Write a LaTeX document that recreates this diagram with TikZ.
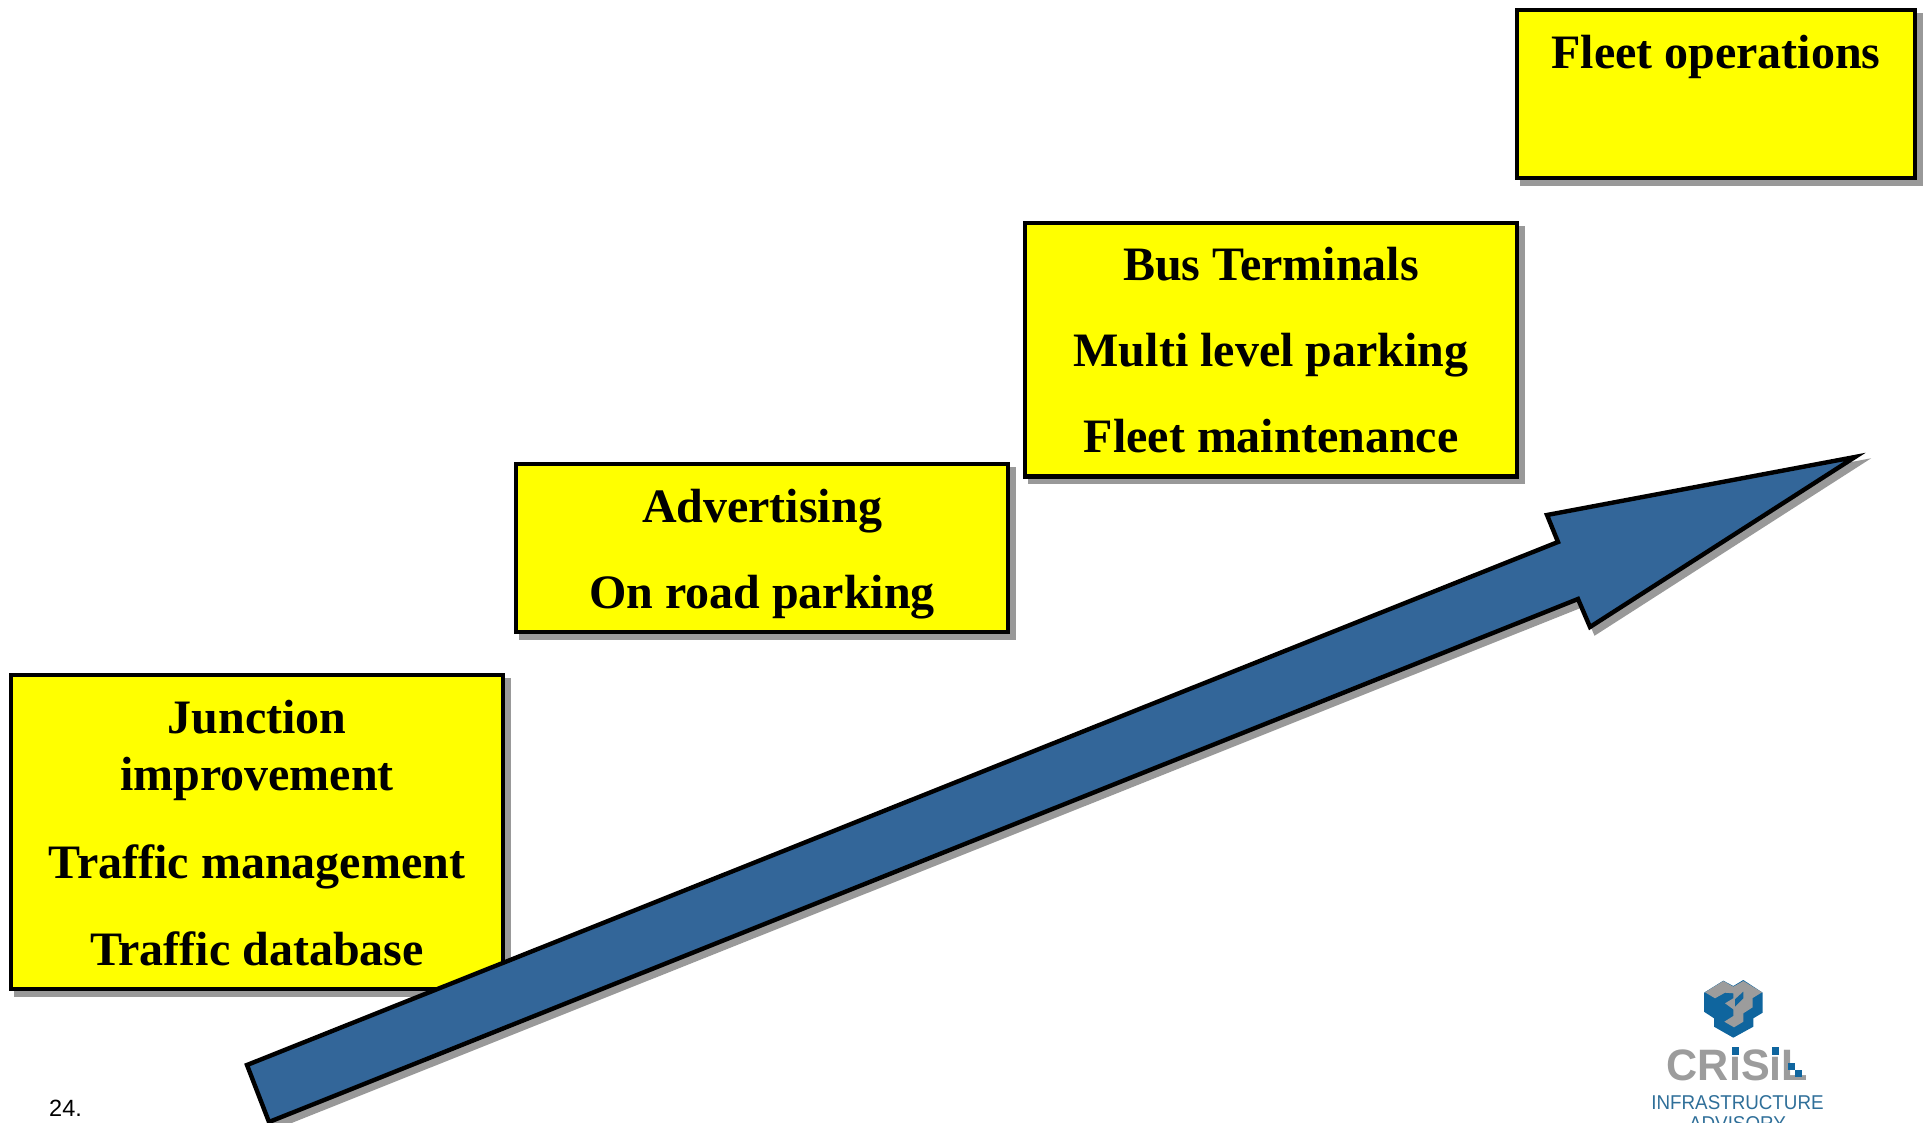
\documentclass[tikz,border=0pt]{standalone}
\usepackage{fontspec}
\setmainfont{Liberation Serif}
\newfontfamily\lsans{Liberation Sans}
\usetikzlibrary{shadows}
\definecolor{stepyellow}{HTML}{FFFF00}
\definecolor{shadowgray}{HTML}{999999}
\definecolor{arrowblue}{HTML}{336699}
\definecolor{logoblue}{HTML}{0F659E}
\definecolor{logogray}{HTML}{9C9C9C}
\definecolor{logotext}{HTML}{2F6F99}
\newcommand{\boxlines}[4]{\parbox[c][#2pt][t]{#1pt}{\centering\rule{0pt}{#3pt}#4}}
\tikzset{
  stepshadow/.style={general shadow={draw=shadowgray,fill=shadowgray,line width=4.4pt,shadow xshift=5.5pt,shadow yshift=-5.5pt}},
  stepbox/.style={rectangle,draw=black,fill=stepyellow,line width=4.4pt,inner sep=0pt,outer sep=0pt,stepshadow,
     font=\fontsize{48}{57}\selectfont\bfseries,text=black},
  growth/.style={draw=black,fill=arrowblue,line width=4.4pt,line join=miter,miter limit=30,stepshadow},
}
\begin{document}
\begin{tikzpicture}[x=1pt,y=-1pt]
\useasboundingbox (0,0) rectangle (1923,1123);
\clip (0,0) rectangle (1923,1123);
\node[stepbox] (fleet) at (1716,94) {\boxlines{398}{168}{59}{Fleet operations}};
\node[stepbox] (bus) at (1271,349.7) {\boxlines{492}{253.5}{58}{Bus Terminals\\[29pt]Multi level parking\\[29pt]Fleet maintenance}};
\node[stepbox] (adv) at (762,548) {\boxlines{492}{168}{58}{Advertising\\[29.6pt]On road parking}};
\node[stepbox] (junc) at (257,832) {\boxlines{492}{314}{58.5}{Junction\\improvement\\[30.6pt]Traffic management\\[30pt]Traffic database}};
\path[growth] (1855,457) -- (1590,627) -- (1578,599) -- (269,1122) -- (247,1065) -- (1558,542) -- (1547,515) -- cycle;
\node[anchor=base west,inner sep=0pt,font=\lsans\fontsize{23.5}{24}\selectfont] (pagenum) at (49,1116) {24.};
% logo
\fill[logoblue] (1704,992.7) -- (1723.3,980.7) -- (1733.3,986) -- (1743.3,980) -- (1762.7,992.7) -- (1762.7,1012.7) -- (1753.3,1018.3) -- (1753.3,1026.7) -- (1733.3,1037.7) -- (1714,1026.7) -- (1714,1018.3) -- (1704,1011.7) -- cycle;
\fill[logogray] (1705,992.3) -- (1723.3,981) -- (1733.3,986.7) -- (1743.3,981) -- (1762,992.3) -- (1752.7,998) -- (1752.7,1007.3) -- (1743.3,1013.3) -- (1743.3,1021.7) -- (1734,1027.3) -- (1724.3,1021.7) -- (1733.3,1016) -- (1733.3,1009.3) -- (1725,1003.3) -- (1733.3,998.3) -- (1733.3,993.3) -- (1725,992.7) -- (1715,998.3) -- cycle;
\fill[logoblue] (1735,999.3) -- (1743.3,991.7) -- (1743.3,998.3) -- (1735,1006.7) -- cycle;
\node[anchor=base,inner sep=0pt,text=logogray,font=\lsans\bfseries\fontsize{44}{44}\selectfont,xscale=.98] (crisil) at (1737.5,1080) {CRiSiL};
\fill[logoblue] (1731.7,1047) rectangle (1738.7,1054.5);
\fill[logoblue] (1772.4,1047) rectangle (1779.4,1054.5);
\fill[logoblue] (1788,1063) rectangle (1795,1070);
\fill[logoblue] (1795,1070) rectangle (1802,1076.5);
\node[anchor=base,inner sep=0pt,text=logotext,font=\lsans\fontsize{20}{20}\selectfont,xscale=.94] (infra) at (1737.5,1109) {INFRASTRUCTURE};
\node[anchor=base,inner sep=0pt,text=logotext,font=\lsans\fontsize{20}{20}\selectfont,xscale=.94] (advisory) at (1737.5,1130) {ADVISORY};
\end{tikzpicture}
\end{document}
